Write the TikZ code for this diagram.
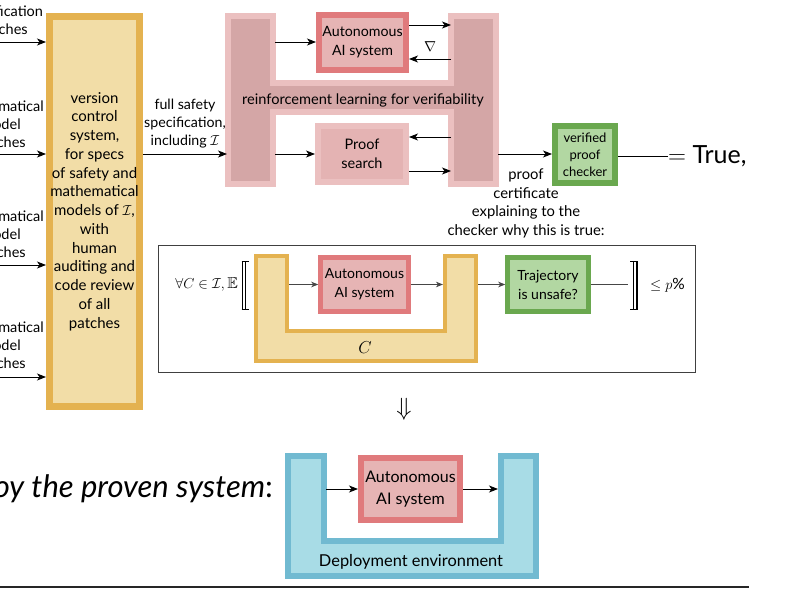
\documentclass[tikz,border=0pt]{standalone}
\usepackage{amsmath,amssymb}
\usepackage{fontspec}
\setmainfont{Lato}
\usetikzlibrary{arrows.meta,calc}
\definecolor{orB}{RGB}{228,178,80}
\definecolor{orF}{RGB}{242,221,167}
\definecolor{redB}{RGB}{224,122,124}
\definecolor{redF}{RGB}{230,180,180}
\definecolor{pkB}{RGB}{235,192,192}
\definecolor{pkF}{RGB}{212,166,166}
\definecolor{psF}{RGB}{228,179,179}
\definecolor{grB}{RGB}{106,168,79}
\definecolor{grF}{RGB}{178,215,162}
\definecolor{blB}{RGB}{113,186,209}
\definecolor{blF}{RGB}{168,220,230}
\definecolor{arrG}{RGB}{70,70,70}
\tikzset{
  arr/.style={-{Stealth[length=9pt,width=7pt,inset=2.5pt]}, line width=0.9pt},
  sarr/.style={-{Stealth[length=7pt,width=5.5pt,inset=2pt]}, line width=0.8pt, draw=arrG},
  txt/.style={font=\fontsize{14.5}{18}\selectfont, align=center, inner sep=0pt},
  redbox/.style={draw=redB, fill=redF, line width=6pt, align=center, inner sep=0pt},
  grbox/.style={draw=grB, fill=grF, line width=6pt, align=center, inner sep=0pt},
}
\begin{document}
\begin{tikzpicture}[x=1pt,y=-1pt]
\useasboundingbox (0,0) rectangle (797,599);
\clip (0,0) rectangle (797,599);

% ---------- left input labels (cropped as in the reference) ----------
\node[txt] (in1) at (3,21) {specification\\patches};
\node[txt] (in2) at (1,125) {mathematical\\model\\patches};
\node[txt] (in3) at (1,235) {mathematical\\model\\patches};
\node[txt] (in4) at (1,346) {mathematical\\model\\patches};
\coordinate (s1) at (-2,42);
\coordinate (s2) at (-2,154);
\coordinate (s3) at (-2,265);
\coordinate (s4) at (-2,377);

% ---------- version control box ----------
\node[draw=orB, fill=orF, line width=7pt, minimum width=90pt, minimum height=390pt,
      align=center, inner sep=0pt, font=\fontsize{15}{18.75}\selectfont] (vc) at (94.5,211.5)
 {version\\control\\system,\\for specs\\of safety and\\mathematical\\models of $\mathcal{I}$,\\with\\human\\auditing and\\code review\\of all\\patches};
\foreach \s in {s1,s2,s3,s4} \draw[arr] (\s) -- (\s -| vc.west);

% ---------- H shape ----------
\draw[draw=pkB, fill=pkF, line width=6pt, line join=miter]
  (228,16) -- (273,16) -- (273,83) -- (451,83) -- (451,16) -- (496,16) -- (496,184)
  -- (451,184) -- (451,112) -- (273,112) -- (273,184) -- (228,184) -- cycle;
\node[txt, font=\fontsize{14.6}{18}\selectfont] (rl) at (363,100) {reinforcement learning for verifiability};

\node[redbox, minimum width=87pt, minimum height=55pt, font=\fontsize{14.2}{19}\selectfont] (ai1) at (362.5,42.5) {Autonomous\\AI system};
\node[draw=pkB, fill=psF, line width=6pt, align=center, inner sep=0pt, minimum width=88pt, minimum height=56pt, font=\fontsize{14.5}{19}\selectfont] (ps) at (362,154) {Proof\\search};

\coordinate (hLa) at (275,42);
\coordinate (hRa) at (451,25);
\coordinate (hRb) at (451,59);
\coordinate (hLb) at (275,154);
\coordinate (hRc) at (451,137);
\coordinate (hRd) at (451,171);
\coordinate (hLin) at (227,154);
\coordinate (hRout) at (498,154);

\draw[arr] (hLa) -- (hLa -| ai1.west);
\draw[arr] (hRa -| ai1.east) -- (hRa);
\draw[arr] (hRb) -- (hRb -| ai1.east);
\node[txt, font=\fontsize{15}{18}\selectfont] (nab) at (430,47) {$\nabla$};
\draw[arr] (hLb) -- (hLb -| ps.west);
\draw[arr] (hRc) -- (hRc -| ps.east);
\draw[arr] (hRd -| ps.east) -- (hRd);

\draw[arr] (hLin -| vc.east) -- (hLin);
\node[txt, font=\fontsize{14.2}{18}\selectfont] (fs) at (185,124) {full safety\\specification,\\including $\mathcal{I}$};

% ---------- checker ----------
\node[grbox, minimum width=60pt, minimum height=57pt, font=\fontsize{13}{17}\selectfont] (chk) at (585,154.5) {verified\\proof\\checker};
\draw[arr] (hRout) -- (hRout -| chk.west);
\node[anchor=west, inner sep=0pt, font=\fontsize{25}{28}\selectfont] (tru) at (668,156) {$=$ True,};
\draw[line width=0.9pt] (chk.east |- tru.west) -- (tru.west);
\node[txt, font=\fontsize{14.8}{18.5}\selectfont] (pc) at (526,203.5) {proof\\certificate\\explaining to the\\checker why this is true:};

% ---------- expectation frame ----------
\node[draw=black!75, line width=0.7pt, minimum width=537pt, minimum height=127pt, inner sep=0pt] (fr) at (426.5,308.5) {};
\node[anchor=east, inner sep=0pt, font=\fontsize{15.8}{18}\selectfont] (fa) at (238,284) {$\forall C\in\mathcal{I},\mathbb{E}$};
% left double bracket
\draw[line width=0.6pt] (241.5,261) -- (249,261) (241.5,309) -- (249,309) (245.5,261) -- (245.5,309);
\draw[line width=1.6pt] (242.3,261) -- (242.3,309);
% orange U
\draw[draw=orB, fill=orF, line width=4pt]
  (256,256) -- (287,256) -- (287,331) -- (445,331) -- (445,256) -- (476,256) -- (476,361) -- (256,361) -- cycle;
\node[font=\fontsize{17}{18}\selectfont, inner sep=0pt] (cc) at (365,348) {$C$};
\node[redbox, line width=4.5pt, minimum width=88pt, minimum height=54pt, font=\fontsize{14}{19}\selectfont] (ai2) at (364.5,284.5) {Autonomous\\AI system};
\node[grbox, line width=4.5pt, minimum width=81pt, minimum height=54pt, font=\fontsize{14}{19}\selectfont] (tj) at (548,284.5) {Trajectory\\is unsafe?};
\coordinate (ul) at (289,284.5);
\coordinate (ur) at (443,284.5);
\coordinate (uo) at (478,284.5);
\coordinate (rb) at (628,284.5);
\draw[sarr] (ul) -- (ai2.west);
\draw[sarr] (ai2.east) -- (ur);
\draw[sarr] (uo) -- (tj.west);
\draw[line width=0.8pt, draw=arrG] (tj.east) -- (rb);
% right double bracket
\draw[line width=0.6pt] (630,261) -- (637.5,261) (630,309) -- (637.5,309) (633.5,261) -- (633.5,309);
\draw[line width=1.6pt] (636.7,261) -- (636.7,309);
\node[anchor=west, inner sep=0pt, font=\fontsize{15.5}{18}\selectfont] (lp) at (650,285) {$\leq p\%$};

% ---------- implies ----------
\node[inner sep=0pt, font=\fontsize{24}{26}\selectfont] (imp) at (404,409) {$\Downarrow$};

% ---------- deployment ----------
\node[anchor=east, inner sep=0pt, font=\fontsize{31}{34}\selectfont] (dep) at (273,489) {\itshape Deploy the proven system\upshape:};
\draw[draw=blB, fill=blF, line width=6pt]
  (288,456) -- (324,456) -- (324,541) -- (501,541) -- (501,456) -- (536,456) -- (536,576) -- (288,576) -- cycle;
\node[redbox, minimum width=99pt, minimum height=62pt, font=\fontsize{16}{22}\selectfont] (ai3) at (410.5,489) {Autonomous\\AI system};
\coordinate (bl) at (326,489);
\coordinate (br) at (498,489);
\draw[arr] (bl) -- (ai3.west);
\draw[arr] (ai3.east) -- (br);
\node[inner sep=0pt, font=\fontsize{16.4}{18}\selectfont] (de) at (411,562) {Deployment environment};

\coordinate (hl1) at (0,587);
\coordinate (hl2) at (749,587);
\draw[line width=1.8pt, draw=black!85] (hl1) -- (hl2);
\end{tikzpicture}
\end{document}
